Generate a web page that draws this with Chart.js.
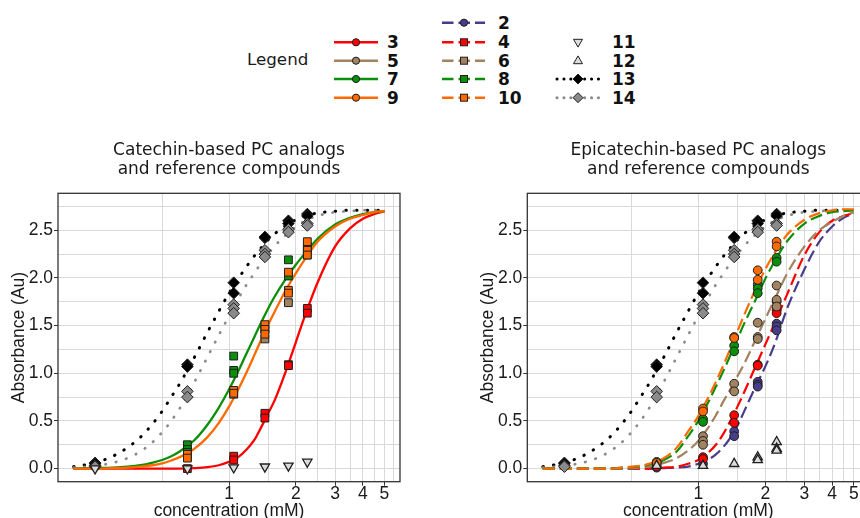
<!DOCTYPE html>
<html>
<head>
<meta charset="utf-8">
<script src="https://cdn.jsdelivr.net/npm/chart.js@4.4.1/dist/chart.umd.min.js"></script>
<style>
html,body{margin:0;padding:0;width:860px;height:518px;overflow:hidden;background:#fff;}
#legend{position:absolute;left:0;top:0;}
#wrapL{position:absolute;left:0;top:130px;width:420px;height:400px;}
#wrapR{position:absolute;left:440px;top:130px;width:440px;height:400px;}
</style>
</head>
<body>
<svg id="legend" width="860" height="115" xmlns="http://www.w3.org/2000/svg"></svg>
<div id="wrapL"><canvas id="cL" width="420" height="400"></canvas></div>
<div id="wrapR"><canvas id="cR" width="440" height="400"></canvas></div>
<script>
// ---------------- data ----------------
const titleLeft  = ['Catechin-based PC analogs', 'and reference compounds'];
const titleRight = ['Epicatechin-based PC analogs', 'and reference compounds'];
const xTitle = 'concentration (mM)';
const yTitle = 'Absorbance (Au)';

const xGridValues = [0.5, 1, 1.5, 2, 2.5, 3, 3.5, 4, 4.5, 5, 5.5];
const xTickLabels = [1, 2, 3, 4, 5];
const yGridValues = [0, 0.25, 0.5, 0.75, 1, 1.25, 1.5, 1.75, 2, 2.25, 2.5, 2.75];
const yTickLabels = [0, 0.5, 1, 1.5, 2, 2.5];

// fitted curves at these concentrations
const curveX = [0.2,0.25,0.3,0.35,0.4,0.45,0.5,0.55,0.6,0.7,0.8,0.9,1.0,1.1,1.2,1.3,1.4,1.5,1.6,1.8,2.0,2.2,2.5,3.0,3.5,4.0,4.5,5.0];
const fit3  = [0,0,0,0,0,0,0,0,0,0.005,0.015,0.035,0.07,0.12,0.20,0.30,0.44,0.58,0.71,1.02,1.33,1.61,1.95,2.33,2.52,2.62,2.67,2.70];
const fit7  = [0,0.005,0.01,0.02,0.035,0.06,0.09,0.13,0.18,0.30,0.46,0.64,0.83,1.02,1.21,1.38,1.54,1.68,1.80,1.99,2.14,2.26,2.41,2.56,2.63,2.67,2.69,2.70];
const fit9  = [0,0,0.005,0.01,0.02,0.035,0.055,0.085,0.12,0.21,0.33,0.48,0.65,0.83,1.01,1.19,1.36,1.51,1.64,1.87,2.05,2.20,2.38,2.54,2.62,2.66,2.69,2.70];
const fit2  = [0,0,0,0,0,0,0,0,0,0.005,0.01,0.02,0.05,0.09,0.15,0.23,0.33,0.45,0.59,0.85,1.07,1.30,1.67,2.09,2.38,2.54,2.63,2.68];
const fit4  = [0,0,0,0,0,0,0,0,0,0.01,0.02,0.05,0.09,0.16,0.25,0.37,0.51,0.65,0.79,1.06,1.30,1.52,1.82,2.24,2.48,2.60,2.65,2.68];
const fit6  = [0,0,0,0,0,0,0.005,0.01,0.02,0.06,0.11,0.19,0.29,0.42,0.56,0.71,0.84,0.97,1.09,1.34,1.57,1.77,2.04,2.33,2.50,2.59,2.65,2.69];
const fit8  = [0,0,0,0,0,0.01,0.015,0.025,0.04,0.09,0.18,0.34,0.50,0.68,0.86,1.03,1.20,1.36,1.51,1.76,1.99,2.17,2.38,2.57,2.65,2.69,2.70,2.71];
const fit10 = [0,0,0,0,0,0.01,0.02,0.03,0.05,0.11,0.22,0.39,0.55,0.73,0.91,1.09,1.27,1.44,1.60,1.87,2.09,2.26,2.45,2.61,2.68,2.71,2.72,2.72];
const fit13 = [0.02,0.06,0.13,0.22,0.33,0.46,0.60,0.75,0.89,1.17,1.43,1.65,1.84,1.99,2.12,2.23,2.32,2.40,2.46,2.55,2.61,2.65,2.68,2.70,2.71,2.71,2.71,2.71];
const fit14 = [0.01,0.03,0.06,0.11,0.18,0.27,0.38,0.50,0.63,0.91,1.17,1.40,1.60,1.78,1.93,2.05,2.16,2.25,2.33,2.45,2.54,2.60,2.65,2.69,2.70,2.71,2.71,2.71];

// measured points [concentration, absorbance]
const cat3  = [[0.65,0.00],[1.05,0.13],[1.05,0.09],[1.45,0.58],[1.45,0.53],[1.85,1.09],[1.85,1.08],[2.25,1.68],[2.25,1.63]];
const cat5  = [[0.65,0.12],[1.05,0.78],[1.45,1.36],[1.85,1.74],[2.25,2.24]];
const cat7  = [[0.65,0.25],[0.65,0.20],[0.65,0.17],[1.05,1.18],[1.05,1.03],[1.05,1.00],[1.45,1.46],[1.85,2.19],[1.85,2.02],[2.25,2.33],[2.25,2.30]];
const cat9  = [[0.65,0.15],[0.65,0.11],[1.05,0.82],[1.05,0.79],[1.45,1.51],[1.45,1.46],[1.45,1.41],[1.85,2.06],[1.85,1.87],[1.85,1.84],[2.25,2.38],[2.25,2.29],[2.25,2.24]];
const cat11 = [[0.25,0.00],[0.65,0.00],[1.05,0.01],[1.45,0.02],[1.85,0.03],[2.25,0.07]];
const epi2  = [[0.65,0.01],[1.05,0.05],[1.45,0.39],[1.45,0.34],[1.85,0.91],[1.85,0.88],[1.85,0.86],[2.25,1.52],[2.25,1.49],[2.25,1.45]];
const epi4  = [[0.65,0.02],[1.05,0.12],[1.05,0.10],[1.45,0.56],[1.45,0.48],[1.85,1.09],[1.85,1.08],[2.25,1.75],[2.25,1.66],[2.25,1.63]];
const epi6  = [[0.65,0.05],[1.05,0.34],[1.05,0.29],[1.05,0.25],[1.45,0.89],[1.45,0.81],[1.85,1.53],[1.85,1.38],[1.85,1.36],[2.25,1.92],[2.25,1.77],[2.25,1.70]];
const epi8  = [[0.65,0.07],[1.05,0.52],[1.05,0.49],[1.45,1.29],[1.45,1.23],[1.85,1.93],[1.85,1.89],[1.85,1.84],[2.25,2.21],[2.25,2.17]];
const epi10 = [[0.65,0.06],[1.05,0.63],[1.05,0.60],[1.45,1.38],[1.45,1.37],[1.85,2.08],[1.85,1.98],[2.25,2.38],[2.25,2.33]];
const epi12 = [[0.65,0.03],[1.05,0.03],[1.45,0.05],[1.85,0.12],[1.85,0.09],[2.25,0.28],[2.25,0.21],[2.25,0.19]];
const ref13 = [[0.25,0.06],[0.25,0.05],[0.65,1.09],[0.65,1.07],[1.05,1.95],[1.05,1.84],[1.45,2.42],[1.45,2.43],[1.85,2.60],[1.85,2.57],[2.25,2.67],[2.25,2.65]];
const ref14 = [[0.25,0.03],[0.25,0.02],[0.65,0.81],[0.65,0.75],[1.05,1.72],[1.05,1.68],[1.05,1.63],[1.45,2.29],[1.45,2.25],[1.45,2.22],[1.85,2.51],[1.85,2.48],[2.25,2.57],[2.25,2.55]];

const legendCol1 = ['3','5','7','9'];
const legendCol2 = ['2','4','6','8','10'];
const legendCol3 = ['11','12','13','14'];

// ---------------- styles ----------------
const COL = {
  '2':'#483d8b','3':'#ff0000','4':'#ff0000','5':'#a2825f','6':'#a2825f',
  '7':'#0a8f0a','8':'#0a8f0a','9':'#ff6a00','10':'#ff6a00',
  '11':'#dcdcdc','12':'#dcdcdc','13':'#000000','14':'#8a8a8a'
};
const EDGE = '#1f1f1f';
const AXFONT = '"Liberation Sans", Arial, sans-serif';
const TXFONT = '"DejaVu Sans", Verdana, sans-serif';
const xMin = Math.pow(10,-0.7688), xMax = Math.pow(10,0.7688);

function pts(arr){ return arr.map(p => ({x:p[0], y:p[1]})); }
function curve(vals){ return curveX.map((x,i) => ({x:x, y:vals[i]})); }

function pointSet(arr, key, style, radius, rot, bw){
  return {data: pts(arr), showLine:false, pointStyle: style, pointRadius: radius, pointHoverRadius: radius,
    pointRotation: rot || 0, backgroundColor: COL[key], borderColor: EDGE, pointBorderWidth: bw || 1};
}
function lineSet(vals, key, kind){
  const d = {data: curve(vals), showLine:true, pointRadius:0, pointHoverRadius:0, pointHitRadius:0,
    borderColor: COL[key], backgroundColor: COL[key], fill:false, cubicInterpolationMode:'monotone', borderWidth:2.3};
  if (kind === 'dash'){ d.borderDash = [12,5]; d.borderWidth = 2.2; }
  if (kind === 'dot'){ d.borderDash = [0.5,10.2]; d.borderCapStyle = 'round'; d.borderWidth = key === '13' ? 3 : 2.7; }
  return d;
}

const frame = { id:'frame', afterDraw(chart){
  const {ctx, chartArea:a} = chart;
  ctx.save(); ctx.strokeStyle = '#333'; ctx.lineWidth = 1.3;
  ctx.strokeRect(a.left, a.top, a.right - a.left, a.bottom - a.top);
  ctx.restore();
}};

function isLab(list, v){ return list.some(t => Math.abs(t - v) < 1e-9); }

function panel(id, padL, padR, title, datasets){
  return new Chart(document.getElementById(id), {
    type:'scatter',
    data:{datasets},
    options:{
      responsive:false, animation:false, devicePixelRatio:1,
      layout:{padding:{left:padL, right:padR, top:0, bottom:0}},
      events:[],
      plugins:{
        legend:{display:false}, tooltip:{enabled:false},
        title:{display:true, text:title, fullSize:false, color:'#1a1a1a',
          font:{family:TXFONT, size:17, weight:'normal', lineHeight:19/17},
          padding:{top:11.3, bottom:14}}
      },
      scales:{
        x:{type:'logarithmic', min:xMin, max:xMax,
          afterBuildTicks: s => { s.ticks = xGridValues.map(v => ({value:v})); },
          afterFit: s => { s.height = 48.3; },
          ticks:{autoSkip:false, maxRotation:0, minRotation:0, padding:0, color:'#1a1a1a',
            font:{family:AXFONT, size:17.5, lineHeight:1},
            callback: v => isLab(xTickLabels, v) ? String(v) : ''},
          grid:{color:'#d9d9d9', lineWidth:1, tickLength:4,
            tickColor: c => (c.tick && isLab(xTickLabels, c.tick.value)) ? '#333' : 'rgba(0,0,0,0)'},
          border:{display:false},
          title:{display:true, text:xTitle, color:'#1a1a1a', font:{family:AXFONT, size:17.5}, padding:{top:0, bottom:8.2}}
        },
        y:{type:'linear', min:-0.1375, max:2.8875,
          afterBuildTicks: s => { s.ticks = yGridValues.map(v => ({value:v})); },
          afterFit: s => { s.width = 58; },
          ticks:{autoSkip:false, padding:1, color:'#1a1a1a', font:{family:AXFONT, size:17.5},
            callback: v => isLab(yTickLabels, v) ? v.toFixed(1) : ''},
          grid:{color:'#d9d9d9', lineWidth:1, tickLength:4,
            tickColor: c => (c.tick && isLab(yTickLabels, c.tick.value)) ? '#333' : 'rgba(0,0,0,0)'},
          border:{display:false},
          title:{display:true, text:yTitle, color:'#1a1a1a', font:{family:AXFONT, size:17.5}, padding:{top:8.4, bottom:0}}
        }
      }
    },
    plugins:[frame]
  });
}

panel('cL', 0, 20, titleLeft, [
  pointSet(cat11,'11','triangle',5.4,180,1.3),
  pointSet(ref14,'14','rectRot',5.8),
  pointSet(ref13,'13','rectRot',5.8),
  pointSet(cat9,'9','rect',5.5),
  pointSet(cat7,'7','rect',5.5),
  pointSet(cat5,'5','rect',5.5),
  pointSet(cat3,'3','rect',5.5),
  lineSet(fit9,'9','solid'),
  lineSet(fit7,'7','solid'),
  lineSet(fit3,'3','solid'),
  lineSet(fit14,'14','dot'),
  lineSet(fit13,'13','dot')
]);

panel('cR', 29.3, 10.7, titleRight, [
  pointSet(epi12,'12','triangle',5.4,0,1.3),
  pointSet(ref14,'14','rectRot',5.8),
  pointSet(ref13,'13','rectRot',5.8),
  pointSet(epi10,'10','circle',4.4),
  pointSet(epi8,'8','circle',4.4),
  pointSet(epi6,'6','circle',4.4),
  pointSet(epi4,'4','circle',4.4),
  pointSet(epi2,'2','circle',4.4),
  lineSet(fit10,'10','dash'),
  lineSet(fit8,'8','dash'),
  lineSet(fit6,'6','dash'),
  lineSet(fit4,'4','dash'),
  lineSet(fit2,'2','dash'),
  lineSet(fit14,'14','dot'),
  lineSet(fit13,'13','dot')
]);

// ---------------- legend (SVG) ----------------
(function(){
  const svg = document.getElementById('legend');
  let s = '';
  const lab = (x,y,t) => `<text x="${x}" y="${y+6}" font-family='${TXFONT}' font-weight="bold" font-size="17" fill="#111">${t}</text>`;
  s += `<text x="247" y="65" font-family='${TXFONT}' font-size="16.7" fill="#1a1a1a">Legend</text>`;
  const r1 = [42.3,60.7,79,97.7];
  legendCol1.forEach((k,i) => {
    const y = r1[i];
    s += `<line x1="334" x2="378" y1="${y}" y2="${y}" stroke="${COL[k]}" stroke-width="2.5"/>`;
    s += `<circle cx="356" cy="${y}" r="3.6" fill="${COL[k]}" stroke="${EDGE}" stroke-width="1"/>`;
    s += lab(387, y, k);
  });
  const r2 = [22.7,42.3,60.7,79,97.7];
  legendCol2.forEach((k,i) => {
    const y = r2[i];
    s += `<line x1="442" x2="485" y1="${y}" y2="${y}" stroke="${COL[k]}" stroke-width="2.5" stroke-dasharray="11.5 5"/>`;
    if (k === '2') s += `<circle cx="464" cy="${y}" r="3.6" fill="${COL[k]}" stroke="${EDGE}" stroke-width="1"/>`;
    else s += `<rect x="460.5" y="${y-3.5}" width="7" height="7" fill="${COL[k]}" stroke="${EDGE}" stroke-width="1"/>`;
    s += lab(498, y, k);
  });
  const r3 = [42.3,60.7,79,97.7];
  legendCol3.forEach((k,i) => {
    const y = r3[i], cx = 578;
    if (k === '11') s += `<polygon points="${cx-4.5},${y-3} ${cx+4.5},${y-3} ${cx},${y+4.8}" fill="${COL[k]}" stroke="${EDGE}" stroke-width="1"/>`;
    else if (k === '12') s += `<polygon points="${cx-4.5},${y+3} ${cx+4.5},${y+3} ${cx},${y-4.8}" fill="${COL[k]}" stroke="${EDGE}" stroke-width="1"/>`;
    else {
      s += `<line x1="557" x2="599" y1="${y}" y2="${y}" stroke="${COL[k]}" stroke-width="3" stroke-linecap="round" stroke-dasharray="0.1 6.8"/>`;
      s += `<polygon points="${cx-5},${y} ${cx},${y-5} ${cx+5},${y} ${cx},${y+5}" fill="${COL[k]}" stroke="${EDGE}" stroke-width="1"/>`;
    }
    s += lab(612, y, k);
  });
  svg.innerHTML = s;
})();
</script>
</body>
</html>
